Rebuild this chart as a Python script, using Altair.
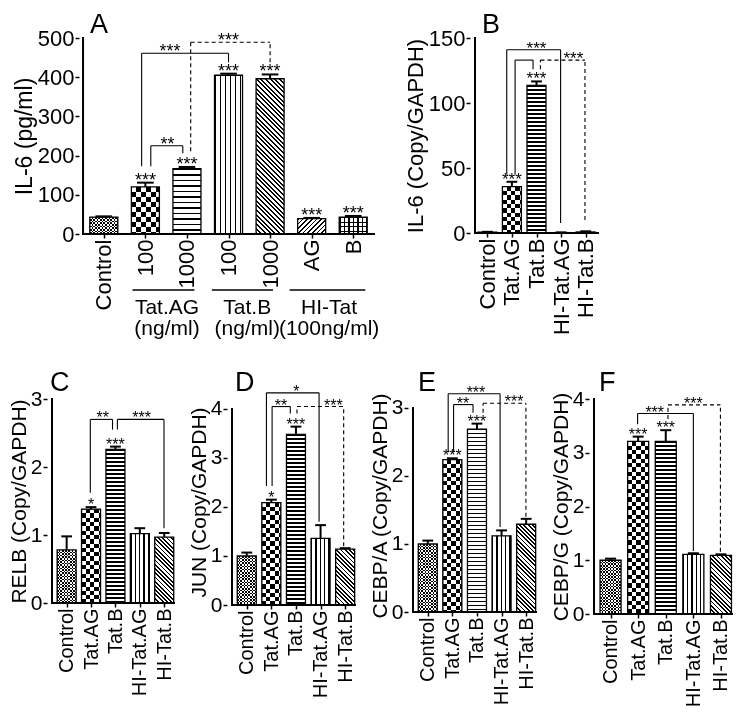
import math
import altair as alt
import pandas as pd

FONT = "Liberation Sans"
INK = "#000000"
PAPER = "#ffffff"
CLEAR = "rgba(255,255,255,0)"

# ---------------- Panel A : IL-6 (pg/ml) ----------------
a_labels = ["Control", "100", "1000", "100", "1000", "AG", "B"]
a_mean = [43, 120, 167, 405, 396, 39, 43]
a_err = [45, 131, 171, 409, 407, 41, 46]
a_stars = ["", "***", "***", "***", "***", "***", "***"]
a_br_x1 = [0.91, 1.13, 2.09]
a_br_x2 = [3.0, 1.9, 4.0]
a_br_top = [461, 225, 489]
a_br_y1 = [173, 173, 211]
a_br_y2 = [438, 206, 438]
a_br_text = ["***", "**", "***"]
a_br_tx = [1.59, 1.53, 3.0]
a_br_dash = [0, 0, 1]
a_grp_name = ["Tat.AG", "Tat.B", "HI-Tat"]
a_grp_unit = ["(ng/ml)", "(ng/ml)", "(100ng/ml)"]
a_grp_x1 = [0.69, 2.6, 4.47]
a_grp_x2 = [2.18, 4.07, 6.29]
a_grp_xc = [1.52, 3.45, 5.42]

# ---------------- shared 5-group categories ----------------
grp5 = ["Control", "Tat.AG", "Tat.B", "HI-Tat.AG", "HI-Tat.B"]

# ---------------- Panel B : IL-6 (Copy/GAPDH) ----------------
b_mean = [0.6, 35.6, 113.6, 0.3, 0.8]
b_err = [0.9, 39.4, 116.6, 0.5, 1.3]
b_stars = ["", "***", "***", "", ""]
b_br_x1 = [0.79, 1.13, 2.16]
b_br_x2 = [2.98, 1.86, 3.97]
b_br_top = [141, 133, 133]
b_br_y1 = [45, 45, 126]
b_br_y2 = [7.6, 126, 10]
b_br_text = ["***", "", "***"]
b_br_tx = [2.0, 1.5, 3.5]
b_br_dash = [0, 0, 1]

# ---------------- Panel C : RELB ----------------
c_mean = [0.78, 1.38, 2.26, 1.02, 0.97]
c_err = [0.98, 1.41, 2.30, 1.10, 1.03]
c_stars = ["", "*", "***", "", ""]
c_br_x1 = [0.97, 2.08]
c_br_x2 = [1.88, 3.99]
c_br_top = [2.70, 2.70]
c_br_y1 = [1.62, 2.55]
c_br_y2 = [2.55, 1.10]
c_br_text = ["**", "***"]
c_br_tx = [1.48, 3.07]
c_br_dash = [0, 0]

# ---------------- Panel D : JUN ----------------
d_mean = [1.0, 2.09, 3.48, 1.36, 1.14]
d_err = [1.07, 2.15, 3.64, 1.63, 1.16]
d_stars = ["", "*", "***", "", ""]
d_br_x1 = [0.80, 1.03, 2.04]
d_br_x2 = [2.94, 1.77, 3.94]
d_br_top = [4.33, 4.05, 4.05]
d_br_y1 = [2.43, 2.43, 3.91]
d_br_y2 = [1.70, 3.91, 1.20]
d_br_text = ["*", "**", "***"]
d_br_tx = [2.02, 1.39, 3.52]
d_br_dash = [0, 0, 1]

# ---------------- Panel E : CEBP/A ----------------
e_mean = [1.0, 2.24, 2.69, 1.12, 1.29]
e_err = [1.05, 2.26, 2.77, 1.20, 1.37]
e_stars = ["", "***", "***", "", ""]
e_br_x1 = [0.83, 1.05, 2.25]
e_br_x2 = [2.94, 1.84, 3.99]
e_br_top = [3.21, 3.05, 3.07]
e_br_y1 = [2.35, 2.35, 2.93]
e_br_y2 = [1.25, 2.93, 1.40]
e_br_text = ["***", "**", "***"]
e_br_tx = [1.96, 1.43, 3.51]
e_br_dash = [0, 0, 1]

# ---------------- Panel F : CEBP/G ----------------
f_mean = [1.0, 3.21, 3.21, 1.11, 1.09]
f_err = [1.03, 3.30, 3.42, 1.13, 1.11]
f_stars = ["", "***", "***", "", ""]
f_br_x1 = [0.98, 2.08]
f_br_x2 = [3.0, 3.98]
f_br_top = [3.73, 3.89]
f_br_y1 = [3.53, 3.63]
f_br_y2 = [1.17, 1.16]
f_br_text = ["***", "***"]
f_br_tx = [1.6, 3.0]
f_br_dash = [0, 1]

# ---------------- styles (fill patterns) ----------------
A_KINDS = ["fine", "checker", "hstripe", "vstripe", "diag_dn", "diag_up", "grid"]
K5 = ["fine", "checker", "hstripe", "vstripe", "diag_dn"]
ST_A = {"fine": 1.7, "checker": 5.0, "h": (5.5, 0.35), "v": (5.0, 0.3), "d": (3.3, 0.42), "g": (4.5, 0.3)}
ST_5 = {"fine": 1.6, "checker": 4.3, "h": (4.0, 0.3), "v": (4.3, 0.3), "d": (3.0, 0.42), "g": (4.5, 0.3)}


def stripe_stops(extent, period, duty, on, off):
    n = max(extent / period, 1.0)
    out = []
    k = 0
    while k < n:
        a = k / n
        b = min((k + duty) / n, 1.0)
        c = min((k + 1) / n, 1.0)
        out += [(a, on), (b, on), (b, off), (c, off)]
        k += 1
    return [alt.GradientStop(offset=round(o, 5), color=col) for o, col in out]


def lin(x1, y1, x2, y2, stops):
    return alt.LinearGradient(gradient="linear", x1=x1, y1=y1, x2=x2, y2=y2, stops=stops)


def pattern(kind, w, h, st):
    if kind in ("fine", "checker"):
        s = st[kind]
        return [(lin(0, 0, 0, 1, stripe_stops(h, 2 * s, 0.5, INK, PAPER)), None),
                (lin(0, 0, 1, 0, stripe_stops(w, 2 * s, 0.5, PAPER, CLEAR)), "difference")]
    if kind == "hstripe":
        p, d = st["h"]
        return [(lin(0, 0, 0, 1, stripe_stops(h, p, d, INK, PAPER)), None)]
    if kind == "vstripe":
        p, d = st["v"]
        return [(lin(0, 0, 1, 0, stripe_stops(w, p, d, INK, PAPER)), None)]
    if kind in ("diag_dn", "diag_up"):
        p, d = st["d"]
        k = (w + h) / (w * w + h * h)
        ext = (w + h) / math.sqrt(2)
        stops = stripe_stops(ext, p, d, INK, PAPER)
        if kind == "diag_dn":
            return [(lin(0, 1, k * w, 1 - k * h, stops), None)]
        return [(lin(0, 0, k * w, k * h, stops), None)]
    p, d = st["g"]
    return [(lin(0, 0, 0, 1, stripe_stops(h, p, d, INK, PAPER)), None),
            (lin(0, 0, 1, 0, stripe_stops(w, p, d, INK, CLEAR)), None)]


def panel(letter, letter_y, letter_dx, labels, mean, err, stars, br, ydom, ytop, yticks, ytitle,
          W, H, barw, xvis, left_extra, kinds, st, capw, star_size, lab_size, ytick_size, title_size,
          extra=None):
    n = len(labels)
    idx = list(range(n))
    df = pd.DataFrame({"idx": idx, "mean": mean, "err": err, "star": stars})
    unit = (W - left_extra) / (xvis[1] - xvis[0])
    xdom = [xvis[0] - left_extra / unit, xvis[1]]
    xs = alt.Scale(domain=xdom, nice=False, zero=False)
    ys = alt.Scale(domain=[0, ydom], nice=False, zero=True)
    expr = "[" + ",".join("'%s'" % l for l in labels) + "][datum.value]"
    xaxis = alt.Axis(values=idx, labelExpr=expr, labelAngle=270, title=None, labelFontSize=lab_size,
                     domain=False)
    yaxis = alt.Axis(values=yticks, title=ytitle, format="d", labelFontSize=ytick_size,
                     titleFontSize=title_size, domain=False, offset=-left_extra)

    def Yq(f):
        return alt.Y(f, scale=ys, axis=yaxis)

    def Xq(f):
        return alt.X(f, scale=xs, axis=xaxis)

    base = alt.Chart(df)
    ppu = H / ydom
    layers = []
    for i in idx:
        h = mean[i] * ppu
        if h < 2:
            continue
        for fill, blend in pattern(kinds[i], barw, h, st):
            kw = dict(size=barw, fill=fill)
            if blend:
                kw["blend"] = blend
            layers.append(base.transform_filter("datum.idx == %d" % i).mark_bar(**kw)
                          .encode(x=Xq("idx:Q"), y=Yq("mean:Q")))
    layers.append(base.mark_bar(size=barw, fillOpacity=0, stroke=INK, strokeWidth=1.3)
                  .encode(x=Xq("idx:Q"), y=Yq("mean:Q")))
    # axis lines (drawn through the scales)
    ax = alt.Chart(pd.DataFrame({"k": [0]}))
    layers.append(ax.mark_rule(color=INK, strokeWidth=2, strokeCap="square").encode(
        x=alt.X(datum=xvis[0], scale=xs, axis=xaxis), y=alt.Y(datum=0, scale=ys, axis=yaxis),
        y2=alt.Y2(datum=ytop)))
    layers.append(ax.mark_rule(color=INK, strokeWidth=2, strokeCap="square").encode(
        x=alt.X(datum=xvis[0], scale=xs, axis=xaxis), x2=alt.X2(datum=xvis[1]),
        y=alt.Y(datum=0, scale=ys, axis=yaxis)))
    # error bars (upper whisker + cap)
    layers.append(base.mark_rule(color=INK, strokeWidth=2).encode(x=Xq("idx:Q"), y=Yq("mean:Q"), y2="err:Q"))
    layers.append(base.transform_calculate(xa="datum.idx - %f" % capw, xb="datum.idx + %f" % capw)
                  .mark_rule(color=INK, strokeWidth=2)
                  .encode(x=Xq("xa:Q"), x2="xb:Q", y=Yq("err:Q")))
    # significance stars above bars
    layers.append(base.mark_text(font=FONT, fontSize=star_size, baseline="alphabetic", dy=3, color=INK)
                  .encode(x=Xq("idx:Q"), y=Yq("err:Q"), text="star:N"))
    # brackets
    bdf = pd.DataFrame(br)
    bb = alt.Chart(bdf)
    for d, dash in ((0, None), (1, [4, 3])):
        sub = bb.transform_filter("datum.dash == %d" % d)
        kw = dict(color=INK, strokeWidth=1.1)
        if dash:
            kw["strokeDash"] = dash
        layers.append(sub.mark_rule(**kw).encode(x=Xq("x1:Q"), x2="x2:Q", y=Yq("top:Q")))
        layers.append(sub.mark_rule(**kw).encode(x=Xq("x1:Q"), y=Yq("y1:Q"), y2="top:Q"))
        layers.append(sub.mark_rule(**kw).encode(x=Xq("x2:Q"), y=Yq("y2:Q"), y2="top:Q"))
    layers.append(bb.mark_text(font=FONT, fontSize=star_size, baseline="alphabetic", dy=4, color=INK)
                  .encode(x=Xq("tx:Q"), y=Yq("top:Q"), text="text:N"))
    # panel letter
    layers.append(alt.Chart(pd.DataFrame({"t": [letter]}))
                  .mark_text(font=FONT, fontSize=27, align="left", baseline="alphabetic", color=INK)
                  .encode(x=alt.value(left_extra + letter_dx), y=alt.value(letter_y), text="t:N"))
    if extra is not None:
        layers += extra(Xq, H)
    return alt.layer(*layers).properties(width=W, height=H)


def br(x1, x2, top, y1, y2, text, tx, dash):
    return {"x1": x1, "x2": x2, "top": top, "y1": y1, "y2": y2, "text": text, "tx": tx, "dash": dash}


def a_groups(Xq, H):
    g = alt.Chart(pd.DataFrame({"x1": a_grp_x1, "x2": a_grp_x2, "xc": a_grp_xc,
                                "name": a_grp_name, "unit": a_grp_unit}))
    return [
        g.mark_rule(color=INK, strokeWidth=1.5).encode(x=Xq("x1:Q"), x2="x2:Q", y=alt.value(H + 56)),
        g.mark_text(font=FONT, fontSize=21, baseline="middle", color=INK).encode(
            x=Xq("xc:Q"), y=alt.value(H + 74), text="name:N"),
        g.mark_text(font=FONT, fontSize=21, baseline="middle", color=INK).encode(
            x=Xq("xc:Q"), y=alt.value(H + 95), text="unit:N"),
    ]


pA = panel("A", -5, 11, a_labels, a_mean, a_err, a_stars,
           br(a_br_x1, a_br_x2, a_br_top, a_br_y1, a_br_y2, a_br_text, a_br_tx, a_br_dash),
           500, 500, [0, 100, 200, 300, 400, 500], "IL-6 (pg/ml)",
           332, 196, 28, [-0.5, 6.5], 32, A_KINDS, ST_A, 0.2, 18, 22, 22, 23, extra=a_groups)
pB = panel("B", -5, 12, grp5, b_mean, b_err, b_stars,
           br(b_br_x1, b_br_x2, b_br_top, b_br_y1, b_br_y2, b_br_text, b_br_tx, b_br_dash),
           150, 150, [0, 50, 100, 150], "IL-6 (Copy/GAPDH)",
           133, 195, 19, [-0.5, 4.5], 0, K5, ST_5, 0.22, 17, 22, 22, 22)
pC = panel("C", -8, 3, grp5, c_mean, c_err, c_stars,
           br(c_br_x1, c_br_x2, c_br_top, c_br_y1, c_br_y2, c_br_text, c_br_tx, c_br_dash),
           3, 3, [0, 1, 2, 3], "RELB (Copy/GAPDH)",
           132, 204, 19, [-0.6, 4.4], 0, K5, ST_5, 0.22, 16, 20, 21, 21)
pD = panel("D", -8, 8, grp5, d_mean, d_err, d_stars,
           br(d_br_x1, d_br_x2, d_br_top, d_br_y1, d_br_y2, d_br_text, d_br_tx, d_br_dash),
           4.204, 4, [0, 1, 2, 3, 4], "JUN (Copy/GAPDH)",
           133, 206, 19, [-0.6, 4.4], 0, K5, ST_5, 0.22, 16, 20, 21, 21)
pE = panel("E", -8, 10, grp5, e_mean, e_err, e_stars,
           br(e_br_x1, e_br_x2, e_br_top, e_br_y1, e_br_y2, e_br_text, e_br_tx, e_br_dash),
           3.132, 3, [0, 1, 2, 3], "CEBP/A (Copy/GAPDH)",
           133, 213, 19, [-0.6, 4.4], 0, K5, ST_5, 0.22, 16, 20, 21, 21)
pF = panel("F", -8, 10, grp5, f_mean, f_err, f_stars,
           br(f_br_x1, f_br_x2, f_br_top, f_br_y1, f_br_y2, f_br_text, f_br_tx, f_br_dash),
           4, 4, [0, 1, 2, 3, 4], "CEBP/G (Copy/GAPDH)",
           148, 215, 21, [-0.6, 4.4], 0, K5, ST_5, 0.2, 16, 20, 21, 21)

top = alt.hconcat(pA, pB, spacing=24)
bottom = alt.hconcat(pC, pD, pE, pF, spacing=9)

chart = (
    alt.vconcat(top, bottom, spacing=30)
    .properties(padding={"top": 3, "left": 0, "right": 0, "bottom": 0}, background="white")
    .configure_view(stroke=None)
    .configure_axis(tickColor=INK, tickWidth=1.5, tickSize=4,
                    labelFont=FONT, labelColor=INK, titleFont=FONT, titleColor=INK,
                    titleFontWeight="normal", grid=False, labelPadding=1, titlePadding=1,
                    labelOverlap=False, labelFlush=False)
)

chart.save("out.html", embed_options={"renderer": "svg", "actions": False})
